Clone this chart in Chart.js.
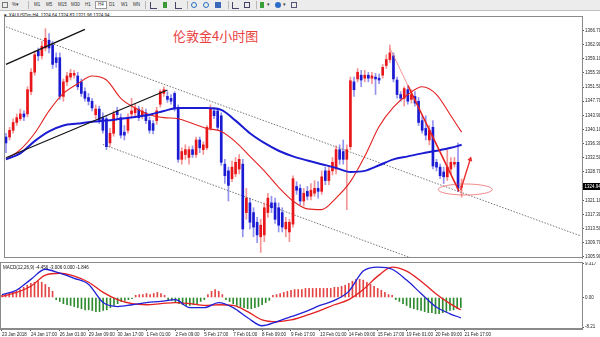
<!DOCTYPE html>
<html>
<head>
<meta charset="utf-8">
<script src="https://cdn.jsdelivr.net/npm/chart.js@4.4.1/dist/chart.umd.min.js"></script>
<style>
  body { margin: 0; width: 600px; height: 337px; overflow: hidden; background: #fff; position: relative; font-family: "Liberation Sans", Arial, sans-serif; }
  .tb { position: absolute; left: 0; top: 0; width: 600px; height: 10px; background: #ececec; border-bottom: 1px solid #c0c0c0; }
  .tb span { position: absolute; top: 2px; font-size: 4.5px; line-height: 6px; color: #333; }
  .tb i { position: absolute; top: 2px; width: 6px; height: 6px; display: block; }
  .tb b { position: absolute; top: 1px; width: 1px; height: 8px; background: #b8b8b8; }
  .info { position: absolute; font-size: 4.5px; line-height: 5px; color: #111; white-space: nowrap; }
  #title { position: absolute; left: 173px; top: 26px; font: 13px "Noto Sans CJK SC"; color: #e8433f; white-space: nowrap; }
  #main { position: absolute; left: 0; top: 12px; }
  #macd { position: absolute; left: 0; top: 262px; }
</style>
</head>
<body>
<div class="tb">
  <i style="left:2px;border:1px solid #777;width:4px;height:4px"></i>
  <span style="left:12px">%▾</span>
  <b style="left:28px"></b>
  <span style="left:34px">M1</span>
  <span style="left:46px">M5</span>
  <span style="left:58px">M15</span>
  <span style="left:71px">M30</span>
  <span style="left:85px">H1</span>
  <span style="left:95px;top:1px;border:1px solid #999;background:#fff;padding:0 2px">H4</span>
  <span style="left:109px">D1</span>
  <span style="left:121px">W1</span>
  <span style="left:133px">MN</span>
  <b style="left:145px"></b>
  <i style="left:150px;border-left:1px solid #446;border-bottom:1px solid #446"></i>
  <i style="left:162px;background:#3a9a3a;width:4px;left:163px"></i>
  <i style="left:175px;border-left:1px solid #446;border-bottom:1px solid #446"></i>
  <b style="left:187px"></b>
  <i style="left:191px;border:1px solid #2a6fc0;border-radius:50%;width:4px;height:4px"></i>
  <i style="left:203px;border:1px solid #2a6fc0;border-radius:50%;width:4px;height:4px"></i>
  <i style="left:215px;background:#3b68b8"></i>
  <b style="left:228px"></b>
  <i style="left:232px;border-left:1px solid #446;border-bottom:1px solid #446"></i>
  <i style="left:244px;border:1px solid #446;width:4px;height:4px"></i>
  <b style="left:256px"></b>
  <i style="left:260px;background:#39a039;width:4px"></i>
  <span style="left:267px">▾</span>
  <i style="left:275px;background:#2d6bc8;border-radius:50%"></i>
  <span style="left:283px">▾</span>
  <i style="left:291px;border:1px solid #557;width:4px;height:4px"></i>
</div>
<div class="info" style="left:3px;top:13px">▼ XAUUSDm,H4&nbsp; 1324.64 1324.83 1321.96 1324.94</div>
<div id="title">伦敦金4小时图</div>
<div class="info" style="left:3px;top:265px;z-index:2">MACD(12,26,9) -4.456 -3.006 0.000 -1.846</div>
<canvas id="main" width="600" height="250"></canvas>
<canvas id="macd" width="600" height="75"></canvas>
<script>
// H4 candles, oldest first
const candleOpen = [
  1338.1,1338.1,1339.9,1342.0,1343.0,1344.3,1344.3,1350.3,1355.5,1361.2,
  1359.9,1362.0,1364.1,1362.8,1359.4,1359.4,1349.0,1352.9,1354.2,1354.7,
  1354.5,1352.9,1350.3,1348.7,1347.7,1344.1,1345.6,1343.3,1343.0,1336.5,
  1339.1,1345.1,1343.3,1339.4,1339.9,1344.3,1344.6,1345.6,1343.8,1344.6,
  1342.5,1341.7,1342.5,1346.9,1349.8,1349.0,1348.5,1349.8,1345.9,1332.1,
  1333.4,1332.6,1334.7,1333.4,1337.3,1334.7,1335.2,1340.4,1345.1,1345.1,
  1343.8,1330.8,1329.0,1326.9,1328.2,1329.5,1330.8,1317.8,1320.4,1317.8,
  1315.2,1311.3,1311.8,1317.8,1320.4,1320.4,1319.1,1317.8,1313.4,1312.6,
  1314.7,1324.8,1324.3,1320.9,1323.5,1322.2,1323.0,1324.3,1323.5,1329.0,
  1326.4,1329.0,1329.5,1334.7,1334.2,1332.1,1335.5,1352.9,1353.7,1354.7,
  1353.9,1354.7,1353.9,1354.2,1353.9,1354.7,1357.3,1358.9,1359.9,1353.4,
  1349.5,1348.5,1350.8,1348.2,1349.0,1347.7,1342.5,1340.4,1337.3,1340.7,
  1331.3,1330.0,1328.7,1327.4,1329.5,1330.8,1331.3,1324.64
];
const candleHigh = [
  1339.1,1340.7,1343.0,1344.3,1345.6,1345.1,1351.6,1356.5,1361.2,1362.0,
  1363.8,1367.2,1365.9,1363.8,1360.7,1360.7,1353.7,1355.5,1356.3,1356.0,
  1355.5,1353.7,1351.3,1349.8,1348.5,1346.7,1346.4,1344.6,1343.8,1340.4,
  1345.1,1346.1,1344.3,1341.2,1344.3,1348.5,1346.9,1346.4,1346.1,1345.6,
  1343.5,1342.5,1346.1,1350.8,1351.6,1350.3,1349.5,1350.3,1346.7,1335.2,
  1336.0,1335.5,1335.7,1338.1,1338.1,1336.8,1341.2,1346.7,1346.1,1345.9,
  1344.6,1332.1,1330.0,1331.6,1332.6,1333.4,1332.1,1324.3,1321.7,1319.1,
  1316.5,1316.0,1320.4,1323.0,1322.2,1321.7,1320.4,1319.1,1316.5,1316.0,
  1327.7,1326.1,1325.3,1324.3,1324.8,1325.6,1326.4,1326.1,1329.0,1330.0,
  1330.0,1332.6,1335.7,1336.0,1337.3,1336.0,1354.2,1354.2,1356.5,1356.0,
  1356.0,1355.5,1355.5,1355.2,1355.0,1357.6,1360.2,1362.8,1360.7,1354.2,
  1350.3,1351.6,1351.6,1350.8,1350.3,1348.7,1343.8,1343.8,1341.2,1342.5,
  1332.1,1330.8,1330.0,1334.7,1332.6,1332.6,1336.5,1326.83
];
const candleLow = [
  1333.9,1337.3,1339.1,1341.2,1342.5,1342.5,1343.5,1349.5,1354.7,1358.6,
  1359.1,1361.2,1360.7,1356.5,1356.8,1348.2,1347.7,1351.9,1353.4,1353.9,
  1350.8,1349.0,1347.7,1346.7,1345.1,1343.0,1341.7,1339.1,1334.7,1335.5,
  1338.3,1343.0,1337.8,1337.3,1339.1,1343.5,1343.8,1342.5,1343.0,1341.7,
  1339.1,1338.9,1341.5,1346.1,1349.0,1347.4,1346.9,1345.1,1331.3,1330.8,
  1332.1,1330.8,1332.6,1332.6,1333.9,1333.4,1334.7,1339.9,1343.0,1339.9,
  1330.5,1325.6,1320.9,1326.1,1327.4,1328.2,1311.3,1316.0,1313.4,1311.3,
  1309.7,1307.1,1310.0,1316.5,1317.8,1314.9,1312.6,1312.6,1311.3,1310.0,
  1313.9,1322.7,1319.9,1319.6,1321.2,1321.2,1322.2,1321.7,1322.7,1325.3,
  1325.3,1327.9,1328.2,1330.8,1330.8,1318.6,1334.7,1349.0,1352.9,1351.6,
  1352.9,1352.9,1352.4,1349.5,1352.4,1353.9,1356.5,1358.1,1352.9,1348.5,
  1347.7,1346.4,1346.9,1347.2,1346.4,1341.2,1339.1,1337.3,1336.0,1329.5,
  1329.0,1326.9,1325.6,1326.4,1328.2,1330.0,1323.5,1321.96
];
const candleClose = [
  1336.5,1339.9,1342.0,1343.3,1344.3,1343.5,1350.8,1355.5,1360.2,1359.9,
  1362.5,1364.6,1362.0,1357.6,1358.1,1349.0,1352.9,1354.5,1355.2,1355.2,
  1351.6,1349.8,1348.5,1347.7,1345.9,1345.6,1342.5,1339.9,1335.5,1339.1,
  1344.3,1344.1,1338.6,1338.6,1343.3,1345.1,1345.9,1343.3,1345.1,1342.5,
  1339.9,1339.9,1345.1,1350.3,1350.8,1348.2,1347.7,1345.9,1332.1,1334.2,
  1334.7,1334.7,1333.4,1337.3,1335.2,1336.0,1340.7,1345.6,1343.8,1340.7,
  1331.3,1327.7,1325.1,1330.0,1331.3,1332.1,1313.4,1321.7,1315.2,1313.9,
  1311.8,1314.4,1319.1,1321.7,1319.1,1316.0,1314.4,1313.9,1315.2,1315.2,
  1326.9,1323.8,1320.9,1323.0,1322.2,1323.8,1324.3,1323.5,1327.4,1326.4,
  1329.0,1331.3,1334.7,1332.1,1332.1,1334.7,1353.2,1350.8,1355.5,1353.4,
  1354.7,1353.9,1354.5,1353.7,1353.4,1356.8,1358.9,1360.7,1353.7,1349.5,
  1348.5,1351.1,1347.7,1349.5,1347.2,1342.0,1339.9,1338.6,1339.9,1330.3,
  1330.0,1327.7,1327.4,1330.0,1331.3,1331.3,1324.3,1324.94
];

// moving averages and MACD lines, read at every 4th bar
const sampleBars = [0,4,8,12,16,20,24,28,32,36,40,44,48,52,56,60,64,68,72,76,80,84,88,92,96,100,104,108,112,116,120,124,127];
const maRed = [1332.1,1334.7,1339.1,1345.1,1349.8,1352.4,1354.5,1353.4,1348.5,1345.9,1344.1,1343.3,1343.0,1341.7,1340.4,1339.6,
  1336.8,1332.9,1329.0,1324.6,1320.9,1318.8,1318.6,1321.7,1326.1,1332.9,1340.9,1346.1,1349.5,1351.6,1349.5,1343.8,1339.4];
const maBlue = [1332.1,1333.7,1337.0,1339.6,1341.2,1341.7,1342.2,1342.5,1343.0,1343.5,1344.1,1345.1,1345.9,1345.9,1345.9,1345.4,
  1342.5,1339.1,1336.5,1334.4,1332.9,1331.8,1330.8,1329.8,1328.7,1329.0,1330.5,1332.1,1332.9,1333.7,1334.4,1335.2,1336.0];
const macdMain = [0.8,2.0,5.0,7.8,6.7,5.3,3.6,-1.4,-2.5,-2.0,-1.4,-1.1,-0.6,-2.8,-2.8,-1.4,
  -2.8,-5.6,-7.8,-6.7,-5.3,-3.9,-2.2,-0.8,1.7,7.3,8.4,7.8,4.8,1.1,-2.5,-4.5,-5.6];
const macdSignal = [0.3,1.4,3.1,6.2,6.7,5.9,4.2,1.4,-0.6,-1.7,-2.0,-1.7,-1.4,-1.7,-2.2,-2.0,
  -2.2,-3.9,-6.2,-6.7,-6.2,-5.0,-3.6,-2.0,-0.6,2.2,5.9,8.4,7.3,4.5,1.1,-1.7,-3.4];
const macdHist = [
  0.6,0.8,1.1,1.4,1.7,2.2,2.8,3.4,3.9,4.2,4.5,4.2,3.6,2.8,1.7,
  -0.6,-1.1,-1.7,-2.0,-2.2,-2.5,-2.8,-3.1,-3.4,-3.4,-3.6,-3.9,-3.9,-3.6,-3.4,-2.8,-2.2,-1.7,-1.1,-0.8,-0.6,-0.3,
  0.6,0.8,0.8,1.1,0.8,1.1,1.4,1.1,0.6,
  -0.6,-0.8,-1.4,-1.7,-2.0,-2.2,-2.2,-2.0,-1.7,-1.1,-0.6,
  0.8,1.7,2.2,1.7,0.8,
  -0.6,-1.1,-1.7,-2.2,-2.5,-2.8,-3.1,-3.1,-2.8,-2.5,-2.0,-1.4,-0.8,
  0.6,0.8,1.1,1.4,1.7,2.0,2.2,2.2,2.2,2.5,2.5,2.5,2.5,2.5,2.5,2.5,2.5,2.8,2.8,3.1,3.4,3.9,4.5,5.0,5.0,4.8,4.2,3.6,3.1,2.5,2.0,1.4,0.8,0.6,
  -0.6,-1.1,-1.7,-2.2,-2.8,-3.1,-3.4,-3.6,-3.9,-4.2,-4.2,-4.5,-4.5,-4.2,-3.9,-3.6,-3.4,-3.1,-2.8
];

const timeLabels = ['23 Jan 2018','24 Jan 17:00','26 Jan 01:00','29 Jan 09:00','30 Jan 17:00','1 Feb 01:00','2 Feb 09:00',
  '5 Feb 17:00','7 Feb 01:00','8 Feb 09:00','9 Feb 17:00','13 Feb 01:00','14 Feb 09:00','15 Feb 17:00','19 Feb 01:00',
  '20 Feb 09:00','21 Feb 17:00'];
const priceTicks = [1366.7,1362.9,1359.1,1355.3,1351.5,1347.7,1343.9,1340.1,1336.3,1332.5,1328.7,1321.1,1317.3,1313.5,1309.7,1305.9];
const macdTicks = [9.317, 0, -8.21];

// hand drawn lines: [bar, price]
const channelTop = [[0, 1367.7], [160, 1311.6]];
const channelBottom = [[27, 1336.1], [113.5, 1305.4]];
const blackLineA = [[0, 1357.6], [22, 1367.0]];
const blackLineB = [[0, 1332.5], [45, 1350.7]];
const fallPink = [[107, 1362.0], [112, 1352.0]];
const fallRed = [[112, 1352.0], [126.3, 1323.5]];
const reboundArrow = [[126.7, 1323.8], [129.4, 1332.1]];
const ringCenter = [128, 1324.0];

const RED = '#e8161a';
const BLUE = '#1a1ad2';
const bars = candleOpen.map((v, i) => i);
const lastPrice = candleClose[candleClose.length - 1];
const perBar = 161.1 / 580; // bar units per pixel along x

const pts = arr => arr.map(p => ({x: p[0], y: p[1]}));
const sampled = vals => vals.map((v, k) => ({x: sampleBars[k], y: v}));

function straight(data, color, width, dash, order) {
  return {type: 'line', data: pts(data), borderColor: color, borderWidth: width, borderDash: dash || [],
    pointRadius: 0, order: order, parsing: true};
}

const framePlugin = {
  id: 'frame',
  afterDraw(chart) {
    const a = chart.chartArea, ctx = chart.ctx;
    ctx.save();
    ctx.strokeStyle = '#8a8a8a';
    ctx.lineWidth = 1;
    ctx.strokeRect(a.left + 0.5, a.top + 0.5, a.right - a.left, a.bottom - a.top - 1);
    ctx.restore();
  }
};

const markPlugin = {
  id: 'mark',
  afterDatasetsDraw(chart) {
    const ctx = chart.ctx, sx = chart.scales.x, sy = chart.scales.y;
    const cx = sx.getPixelForValue(ringCenter[0]), cy = sy.getPixelForValue(ringCenter[1]);
    ctx.save();
    ctx.strokeStyle = 'rgba(230,70,70,0.8)';
    ctx.lineWidth = 0.8;
    ctx.beginPath();
    ctx.ellipse(cx, cy, 27, 5.5, 0, 0, Math.PI * 2);
    ctx.stroke();
    ctx.restore();
  },
  afterDraw(chart) {
    const ctx = chart.ctx, a = chart.chartArea;
    const y = chart.scales.y.getPixelForValue(lastPrice);
    ctx.save();
    ctx.fillStyle = '#000';
    ctx.fillRect(a.right + 1, Math.round(y) - 3, 17, 7);
    ctx.fillStyle = '#fff';
    ctx.font = '4.5px "Liberation Sans"';
    ctx.textBaseline = 'middle';
    ctx.fillText(lastPrice.toFixed(2), a.right + 2.5, Math.round(y) + 0.5);
    ctx.restore();
  }
};

const tickFont = {size: 4.5, family: 'Liberation Sans'};

new Chart(document.getElementById('main'), {
  type: 'bar',
  data: {
    datasets: [
      straight(channelTop, '#555', 0.8, [1.5, 1.5], 9),
      straight(channelBottom, '#555', 0.8, [1.5, 1.5], 9),
      {
        data: bars.map(i => ({x: i, y: [candleLow[i], candleHigh[i]]})),
        backgroundColor: ctx => candleClose[ctx.dataIndex] >= candleOpen[ctx.dataIndex] ? 'rgba(235,60,60,0.55)' : 'rgba(60,60,225,0.55)',
        barThickness: 1, grouped: false, order: 8
      },
      {
        data: bars.map(i => ({x: i, y: [candleOpen[i], candleClose[i]]})),
        backgroundColor: ctx => candleClose[ctx.dataIndex] >= candleOpen[ctx.dataIndex] ? RED : BLUE,
        barThickness: 2, minBarLength: 1, grouped: false, order: 7
      },
      {type: 'line', data: sampled(maRed), borderColor: '#e42222', borderWidth: 1.1, pointRadius: 0,
        cubicInterpolationMode: 'monotone', order: 4},
      {type: 'line', data: sampled(maBlue), borderColor: '#1b1bd4', borderWidth: 2, pointRadius: 0,
        cubicInterpolationMode: 'monotone', order: 3},
      straight(blackLineA, '#111', 1.3, null, 2),
      straight(blackLineB, '#111', 1.1, null, 2),
      straight(fallPink, 'rgba(235,120,120,0.8)', 1, null, 1),
      straight(fallRed, '#e62020', 1.6, null, 1),
      {type: 'line', data: pts(reboundArrow), borderColor: '#ee2a2a', borderWidth: 1.4, order: 1,
        pointRadius: [0, 3], pointStyle: 'triangle', rotation: 17, pointBackgroundColor: '#ee2a2a', pointBorderWidth: 0}
    ]
  },
  options: {
    responsive: false, animation: false, events: [],
    layout: {padding: 0},
    plugins: {legend: {display: false}, tooltip: {enabled: false}},
    scales: {
      x: {type: 'linear', min: -0.55, max: 160.55, offset: false, display: false},
      y: {
        position: 'right', min: 1305.6, max: 1370.6,
        afterBuildTicks: s => { s.ticks = priceTicks.map(v => ({value: v})); },
        afterFit: s => { s.width = 18; s.paddingTop = 0; s.paddingBottom = 0; },
        ticks: {font: tickFont, color: '#222', padding: 1, autoSkip: false, callback: v => v.toFixed(2)},
        grid: {drawOnChartArea: false, tickLength: 2, color: '#555'},
        border: {color: '#8a8a8a'}
      }
    }
  },
  plugins: [framePlugin, markPlugin]
});

new Chart(document.getElementById('macd'), {
  type: 'bar',
  data: {
    datasets: [
      {
        data: bars.map(i => ({x: i, y: macdHist[i]})),
        backgroundColor: ctx => macdHist[ctx.dataIndex] >= 0 ? '#e34545' : '#2e8a2e',
        barThickness: 1, grouped: false, order: 3
      },
      {type: 'line', data: sampled(macdSignal), borderColor: '#e42020', borderWidth: 1.3, pointRadius: 0,
        cubicInterpolationMode: 'monotone', order: 2},
      {type: 'line', data: sampled(macdMain), borderColor: '#2020d8', borderWidth: 1.3, pointRadius: 0,
        cubicInterpolationMode: 'monotone', order: 1}
    ]
  },
  options: {
    responsive: false, animation: false, events: [],
    layout: {padding: 0},
    plugins: {legend: {display: false}, tooltip: {enabled: false}},
    scales: {
      x: {
        type: 'linear', min: -0.55, max: 160.55, offset: false,
        afterBuildTicks: s => { s.ticks = timeLabels.map((t, k) => ({value: k * 8})); },
        afterFit: s => { s.height = 8; s.paddingLeft = 0; s.paddingRight = 0; },
        ticks: {font: tickFont, color: '#222', padding: 1, autoSkip: false, maxRotation: 0, align: 'start',
          callback: v => timeLabels[Math.round(v / 8)]},
        grid: {drawOnChartArea: false, tickLength: 2, color: '#555', offset: false},
        border: {color: '#8a8a8a'}
      },
      y: {
        position: 'right', min: -8.7, max: 9.8,
        afterBuildTicks: s => { s.ticks = macdTicks.map(v => ({value: v})); },
        afterFit: s => { s.width = 18; s.paddingTop = 0; s.paddingBottom = 0; },
        ticks: {font: tickFont, color: '#222', padding: 1, autoSkip: false,
          callback: v => v === 0 ? '0.00' : String(v)},
        grid: {drawOnChartArea: false, tickLength: 2, color: '#555'},
        border: {color: '#8a8a8a'}
      }
    }
  },
  plugins: [framePlugin]
});
</script>
</body>
</html>
